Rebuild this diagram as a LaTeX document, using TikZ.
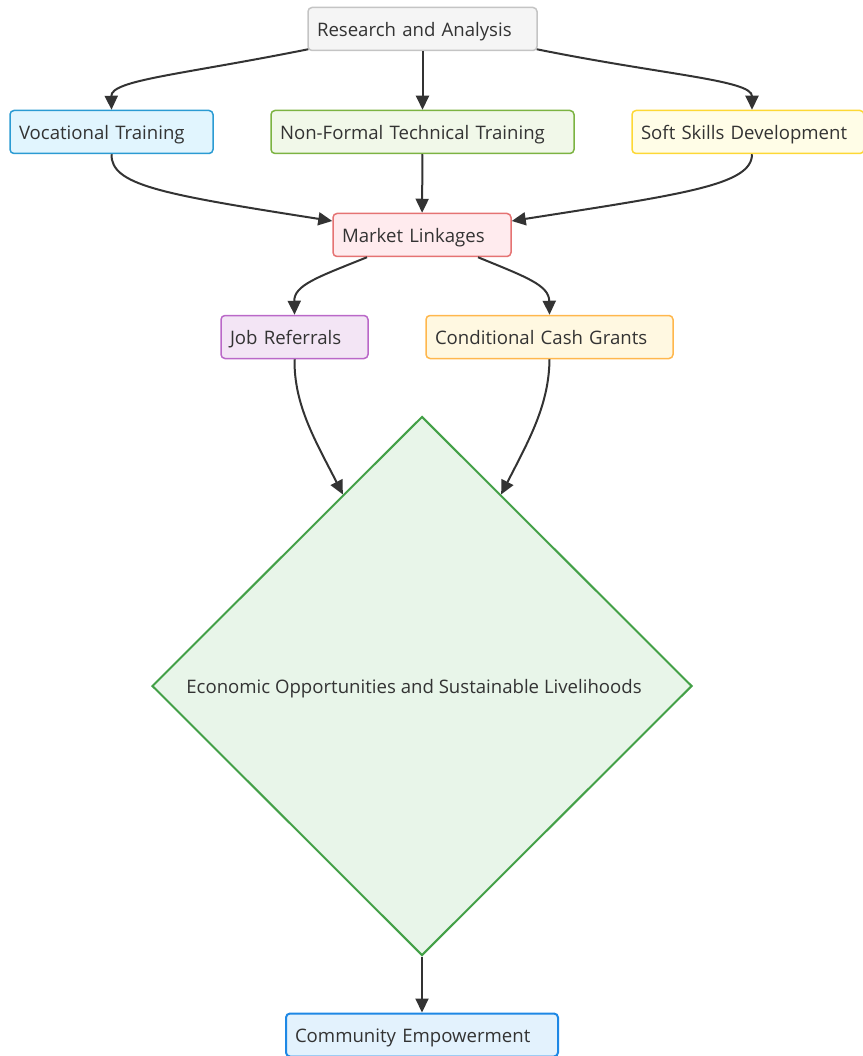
\documentclass[tikz,border=0pt]{standalone}
\usepackage{fontspec}
\setmainfont{Open Sans}
\usetikzlibrary{arrows.meta,shapes.geometric,calc}

\definecolor{txt}{HTML}{333333}
\definecolor{line}{HTML}{333333}
\definecolor{rafill}{HTML}{F5F5F5}  \definecolor{radraw}{HTML}{C4C4C4}
\definecolor{vtfill}{HTML}{E1F5FE}  \definecolor{vtdraw}{HTML}{2B9BD3}
\definecolor{ntfill}{HTML}{F1F8E9}  \definecolor{ntdraw}{HTML}{7CB342}
\definecolor{ssfill}{HTML}{FFFDE7}  \definecolor{ssdraw}{HTML}{FDD835}
\definecolor{mlfill}{HTML}{FFEBEE}  \definecolor{mldraw}{HTML}{E57373}
\definecolor{jrfill}{HTML}{F3E5F5}  \definecolor{jrdraw}{HTML}{BA68C8}
\definecolor{ccfill}{HTML}{FFF8E1}  \definecolor{ccdraw}{HTML}{FFB74D}
\definecolor{eofill}{HTML}{E8F5E9}  \definecolor{eodraw}{HTML}{43A047}
\definecolor{cefill}{HTML}{E3F2FD}  \definecolor{cedraw}{HTML}{1E88E5}

\tikzset{
  box/.style={draw, rounded corners=4pt, line width=1.5pt, minimum height=43pt,
    inner xsep=9pt, inner ysep=0pt, align=left, text=txt,
    text height=19.5pt, text depth=4pt,
    font=\fontsize{18.6}{22}\selectfont},
  flow/.style={draw=line, line width=2pt,
    -{Triangle[length=14pt,width=13pt]}}
}

\begin{document}
\begin{tikzpicture}[x=1pt,y=-1pt]
        \useasboundingbox (0,0) rectangle (862,1056);

        % Узлы
        \node[box, text width=211pt, draw=radraw, fill=rafill] (ra) at (422.5,29) {Research and Analysis};
        \node[box, text width=185pt, draw=vtdraw, fill=vtfill] (vt) at (111.5,132) {Vocational Training};
        \node[box, text width=285pt, draw=ntdraw, fill=ntfill] (nt) at (422.5,132) {Non-Formal Technical Training};
        \node[box, text width=214pt, draw=ssdraw, fill=ssfill] (ss) at (748,132) {Soft Skills Development};
        \node[box, text width=160pt, draw=mldraw, fill=mlfill] (ml) at (422,235) {Market Linkages};
        \node[box, text width=129pt, draw=jrdraw, fill=jrfill] (jr) at (294.5,337) {Job Referrals};
        \node[box, text width=229pt, draw=ccdraw, fill=ccfill] (cc) at (549.5,337) {Conditional Cash Grants};
        \node[diamond, draw=eodraw, fill=eofill, line width=2pt, inner sep=0pt,
              minimum width=540pt, minimum height=539pt, text=txt,
              text height=19.5pt, text depth=4pt,
              font=\fontsize{18.6}{22}\selectfont] (eo) at (422,686)
              {Economic Opportunities and Sustainable Livelihoods\hspace*{16pt}};
        \node[box, text width=254pt, line width=2pt, draw=cedraw, fill=cefill] (ce) at (422,1035) {Community Empowerment};

        % Стрелки
        \draw[flow] (ra.south west) ++(1,-2) .. controls (180,75) and (111,80) .. (vt.north);
        \draw[flow] (ra) -- (nt);
        \draw[flow] (ra.south east) ++(-1,-2) .. controls (664,75) and (752,80) .. (ss.north -| 752,0);

        \draw[flow] (vt.south) .. controls (111,185) and (160,194) .. (ml.west |- 0,221);
        \draw[flow] (nt) -- (ml);
        \draw[flow] (ss.south -| 752,0) .. controls (752,185) and (684,194) .. (ml.east |- 0,221);

        \draw[flow] (ml.south) ++(-55,0) .. controls (318,277) and (294,285) .. (jr.north);
        \draw[flow] (ml.south) ++(56,0) .. controls (526,277) and (549,285) .. (cc.north);

        \draw[flow] (jr.south) .. controls (294,405) and (315,440) .. ($(eo.north)!0.292!(eo.west)$);
        \draw[flow] (cc.south) .. controls (549,405) and (529,440) .. ($(eo.north)!0.292!(eo.east)$);

        \draw[flow] (eo) -- (ce);
\end{tikzpicture}
\end{document}
